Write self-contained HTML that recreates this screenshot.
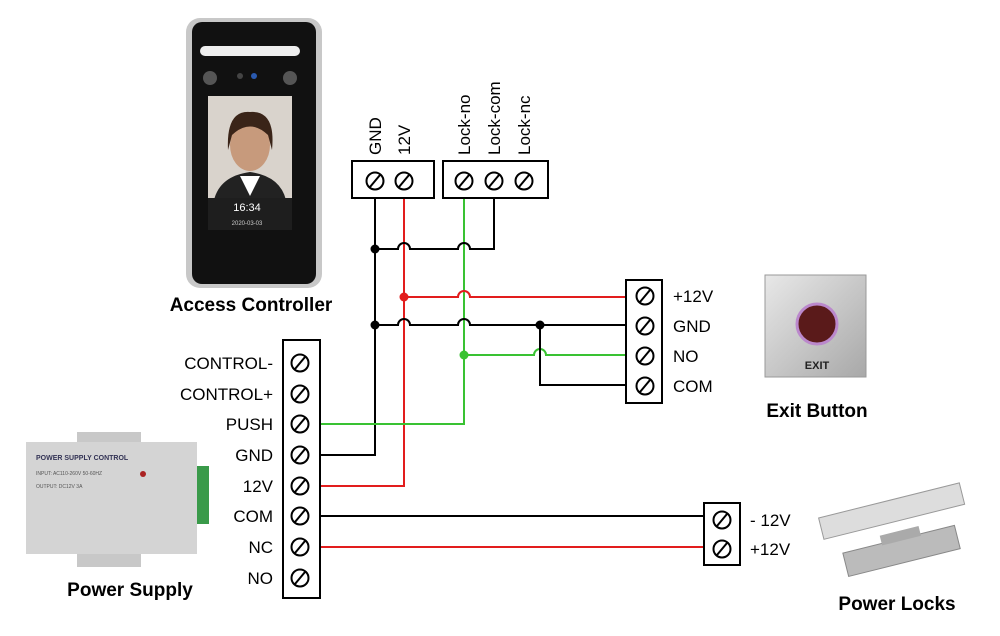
<!DOCTYPE html>
<html><head><style>
body{margin:0;background:#fff;}
svg{display:block;font-family:"Liberation Sans",Arial,sans-serif;}
</style></head><body>
<svg width="1000" height="636" viewBox="0 0 1000 636" xmlns="http://www.w3.org/2000/svg">
<defs>
<g id="sc"><circle r="8.5" fill="#fff" stroke="#000" stroke-width="2"/><line x1="-5" y1="6" x2="5" y2="-6" stroke="#000" stroke-width="2"/></g>
<linearGradient id="met" x1="0" y1="0" x2="1" y2="1"><stop offset="0" stop-color="#e8e8e8"/><stop offset="1" stop-color="#a8a8a8"/></linearGradient>
</defs>

<!-- Access controller -->
<rect x="186" y="18" width="136" height="270" rx="14" fill="#c8c8c8"/>
<rect x="192" y="22" width="124" height="262" rx="10" fill="#111"/>
<rect x="200" y="46" width="100" height="10" rx="5" fill="#eee"/>
<circle cx="210" cy="78" r="7" fill="#555"/><circle cx="290" cy="78" r="7" fill="#555"/>
<circle cx="240" cy="76" r="3" fill="#444"/><circle cx="254" cy="76" r="3" fill="#2a5ab0"/>
<rect x="208" y="96" width="84" height="134" fill="#d9d3cc"/>
<ellipse cx="250" cy="145" rx="20" ry="26" fill="#c79a7c"/>
<path d="M228 150 Q226 110 250 112 Q276 110 272 150 L268 135 Q250 118 232 135 Z" fill="#3a2418"/>
<path d="M214 200 Q220 176 250 172 Q280 176 286 200 Z" fill="#222"/>
<path d="M240 176 L250 196 L260 176 Z" fill="#fff"/>
<rect x="208" y="198" width="84" height="32" fill="#1e1e1e"/>
<text x="247" y="211" font-size="11" fill="#fff" text-anchor="middle">16:34</text>
<text x="247" y="225" font-size="6" fill="#ccc" text-anchor="middle">2020-03-03</text>
<text x="251" y="311" font-size="19" font-weight="bold" text-anchor="middle">Access Controller</text>

<!-- Exit button -->
<rect x="765" y="275" width="101" height="102" fill="url(#met)" stroke="#999"/>
<circle cx="817" cy="324" r="20" fill="#5a1a1a" stroke="#bb88cc" stroke-width="3"/>
<text x="817" y="369" font-size="11" font-weight="bold" text-anchor="middle" fill="#222">EXIT</text>
<text x="817" y="417" font-size="19" font-weight="bold" text-anchor="middle">Exit Button</text>

<!-- Power supply -->
<rect x="77" y="432" width="64" height="20" fill="#c8c8c8"/>
<rect x="77" y="545" width="64" height="22" fill="#c8c8c8"/>
<rect x="26" y="442" width="171" height="112" fill="#d4d4d4"/>
<rect x="197" y="466" width="12" height="58" fill="#3a9a4a"/>
<text x="36" y="460" font-size="7" font-weight="bold" fill="#335">POWER SUPPLY CONTROL</text>
<text x="36" y="475" font-size="5" fill="#555">INPUT: AC110-260V 50-60HZ</text>
<text x="36" y="488" font-size="5" fill="#555">OUTPUT: DC12V 3A</text>
<circle cx="143" cy="474" r="3" fill="#a22"/>
<text x="130" y="596" font-size="19" font-weight="bold" text-anchor="middle">Power Supply</text>

<!-- Power locks -->
<g transform="rotate(-14 895 535)">
<rect x="825" y="500" width="145" height="22" fill="#ddd" stroke="#999"/>
<rect x="840" y="540" width="115" height="24" fill="#bbb" stroke="#888"/>
<rect x="880" y="532" width="40" height="10" fill="#aaa"/>
</g>
<text x="897" y="610" font-size="19" font-weight="bold" text-anchor="middle">Power Locks</text>

<!-- wires -->
<g fill="none" stroke-width="2">
<path d="M375 198 V455 H320" stroke="#000"/>
<path d="M404 198 V486 H320" stroke="#e21d1d"/>
<path d="M464 198 V424 H320" stroke="#39c232"/>
<path d="M494 198 V249 H470 a6 6 0 0 0 -12 0 H410 a6 6 0 0 0 -12 0 H375" stroke="#000"/>
<path d="M404 297 H458 a6 6 0 0 1 12 0 H628" stroke="#e21d1d"/>
<path d="M375 325 H398 a6 6 0 0 1 12 0 H458 a6 6 0 0 1 12 0 H628" stroke="#000"/>
<path d="M464 355 H534 a6 6 0 0 1 12 0 H628" stroke="#39c232"/>
<path d="M540 325 V385 H628" stroke="#000"/>
<path d="M320 516 H705" stroke="#000"/>
<path d="M320 547 H705" stroke="#e21d1d"/>
</g>
<circle cx="375" cy="249" r="4.5" fill="#000"/>
<circle cx="375" cy="325" r="4.5" fill="#000"/>
<circle cx="540" cy="325" r="4.5" fill="#000"/>
<circle cx="404" cy="297" r="4.5" fill="#e21d1d"/>
<circle cx="464" cy="355" r="4.5" fill="#39c232"/>

<!-- top terminals -->
<rect x="352" y="161" width="82" height="37" fill="#fff" stroke="#000" stroke-width="2"/>
<rect x="443" y="161" width="105" height="37" fill="#fff" stroke="#000" stroke-width="2"/>
<use href="#sc" x="375" y="181"/><use href="#sc" x="404" y="181"/>
<use href="#sc" x="464" y="181"/><use href="#sc" x="494" y="181"/><use href="#sc" x="524" y="181"/>
<g font-size="17">
<text transform="translate(381 155) rotate(-90)">GND</text>
<text transform="translate(410 155) rotate(-90)">12V</text>
<text transform="translate(470 155) rotate(-90)">Lock-no</text>
<text transform="translate(500 155) rotate(-90)">Lock-com</text>
<text transform="translate(530 155) rotate(-90)">Lock-nc</text>
</g>

<!-- exit terminal -->
<rect x="626" y="280" width="36" height="123" fill="#fff" stroke="#000" stroke-width="2"/>
<use href="#sc" x="645" y="296"/><use href="#sc" x="645" y="326"/><use href="#sc" x="645" y="356"/><use href="#sc" x="645" y="386"/>
<g font-size="17"><text x="673" y="302">+12V</text><text x="673" y="332">GND</text><text x="673" y="362">NO</text><text x="673" y="392">COM</text></g>

<!-- PS terminal -->
<rect x="283" y="340" width="37" height="258" fill="#fff" stroke="#000" stroke-width="2"/>
<g>
<use href="#sc" x="300" y="363"/><use href="#sc" x="300" y="394"/><use href="#sc" x="300" y="424"/><use href="#sc" x="300" y="455"/>
<use href="#sc" x="300" y="486"/><use href="#sc" x="300" y="516"/><use href="#sc" x="300" y="547"/><use href="#sc" x="300" y="578"/>
</g>
<g font-size="17" text-anchor="end">
<text x="273" y="369">CONTROL-</text><text x="273" y="400">CONTROL+</text><text x="273" y="430">PUSH</text><text x="273" y="461">GND</text>
<text x="273" y="492">12V</text><text x="273" y="522">COM</text><text x="273" y="553">NC</text><text x="273" y="584">NO</text>
</g>

<!-- lock terminal -->
<rect x="704" y="503" width="36" height="62" fill="#fff" stroke="#000" stroke-width="2"/>
<use href="#sc" x="722" y="520"/><use href="#sc" x="722" y="549"/>
<g font-size="17"><text x="750" y="526">- 12V</text><text x="750" y="555">+12V</text></g>
</svg>
</body></html>
